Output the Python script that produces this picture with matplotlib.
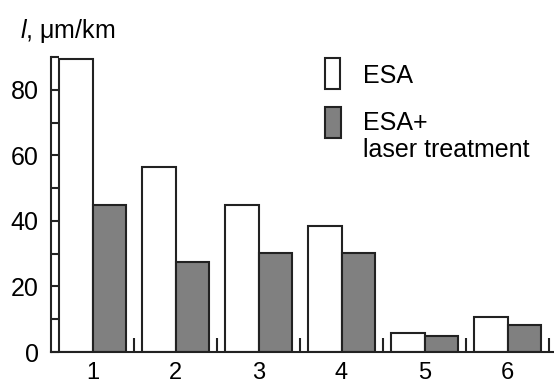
import numpy as np
import matplotlib
matplotlib.use('Agg')
import matplotlib.pyplot as plt
from matplotlib.patches import Rectangle

plt.rcParams['font.family'] = ['Liberation Sans', 'DejaVu Sans']
plt.rcParams['mathtext.fontset'] = 'custom'
plt.rcParams['mathtext.it'] = 'Liberation Sans:italic'
plt.rcParams['mathtext.rm'] = 'Liberation Sans'

# Data
groups = [1, 2, 3, 4, 5, 6]
esa = [89.5, 56.4, 44.8, 38.4, 5.8, 10.7]
esa_laser = [44.8, 27.4, 30.2, 30.2, 4.9, 8.2]
tick_labels = ['1', '2', '3', '4', '5', '6']

edge = '#222222'
gray = '#808080'
fs = 18

fig = plt.figure(figsize=(5.54, 3.87), dpi=100)
ax = fig.add_axes([51 / 554, 35 / 387, 503 / 554, 295 / 387])

x = np.array(groups)
w = 0.4
ax.bar(x - w / 2, esa, width=w, color='white', edgecolor=edge, linewidth=1.5)
ax.bar(x + w / 2, esa_laser, width=w, color=gray, edgecolor=edge, linewidth=1.5)

ax.set_xlim(0.5, 6.56)
ax.set_ylim(0, 90)

for s in ['top', 'right']:
    ax.spines[s].set_visible(False)
for s in ['left', 'bottom']:
    ax.spines[s].set_linewidth(1.5)
    ax.spines[s].set_color(edge)

# x axis: labels at group centres, short ticks between groups
ax.set_xticks(x)
ax.set_xticklabels(tick_labels, fontsize=17)
ax.set_xticks(x + 0.5, minor=True)
ax.tick_params(axis='x', which='major', length=0, pad=7)
ax.tick_params(axis='x', which='minor', direction='in', length=10, width=1.5, color=edge)

# y axis: ticks every 10, labels every 20
ax.set_yticks(np.arange(0, 81, 20))
ax.set_yticklabels([str(v) for v in range(0, 81, 20)], fontsize=fs)
ax.set_yticks(np.arange(10, 91, 20), minor=True)
ax.tick_params(axis='y', which='both', direction='in', length=5.5, width=1.5, color=edge, pad=9)

# axis title
fig.text(20 / 554, 1 - 38 / 387, r'$\mathit{l}$' + ', μm/km', fontsize=fs,
         va='baseline', ha='left')

# legend drawn by hand
fig.patches.append(Rectangle((325 / 554, 1 - 89 / 387), 15 / 554, 31 / 387,
                             transform=fig.transFigure, facecolor='white',
                             edgecolor=edge, linewidth=1.5))
fig.patches.append(Rectangle((325 / 554, 1 - 138 / 387), 16 / 554, 31 / 387,
                             transform=fig.transFigure, facecolor=gray,
                             edgecolor=edge, linewidth=1.5))
fig.text(363 / 554, 1 - 83 / 387, 'ESA', fontsize=fs, va='baseline')
fig.text(363 / 554, 1 - 130 / 387, 'ESA+', fontsize=fs, va='baseline')
fig.text(363 / 554, 1 - 157 / 387, 'laser treatment', fontsize=fs, va='baseline')

fig.savefig('out.png', dpi=100)
